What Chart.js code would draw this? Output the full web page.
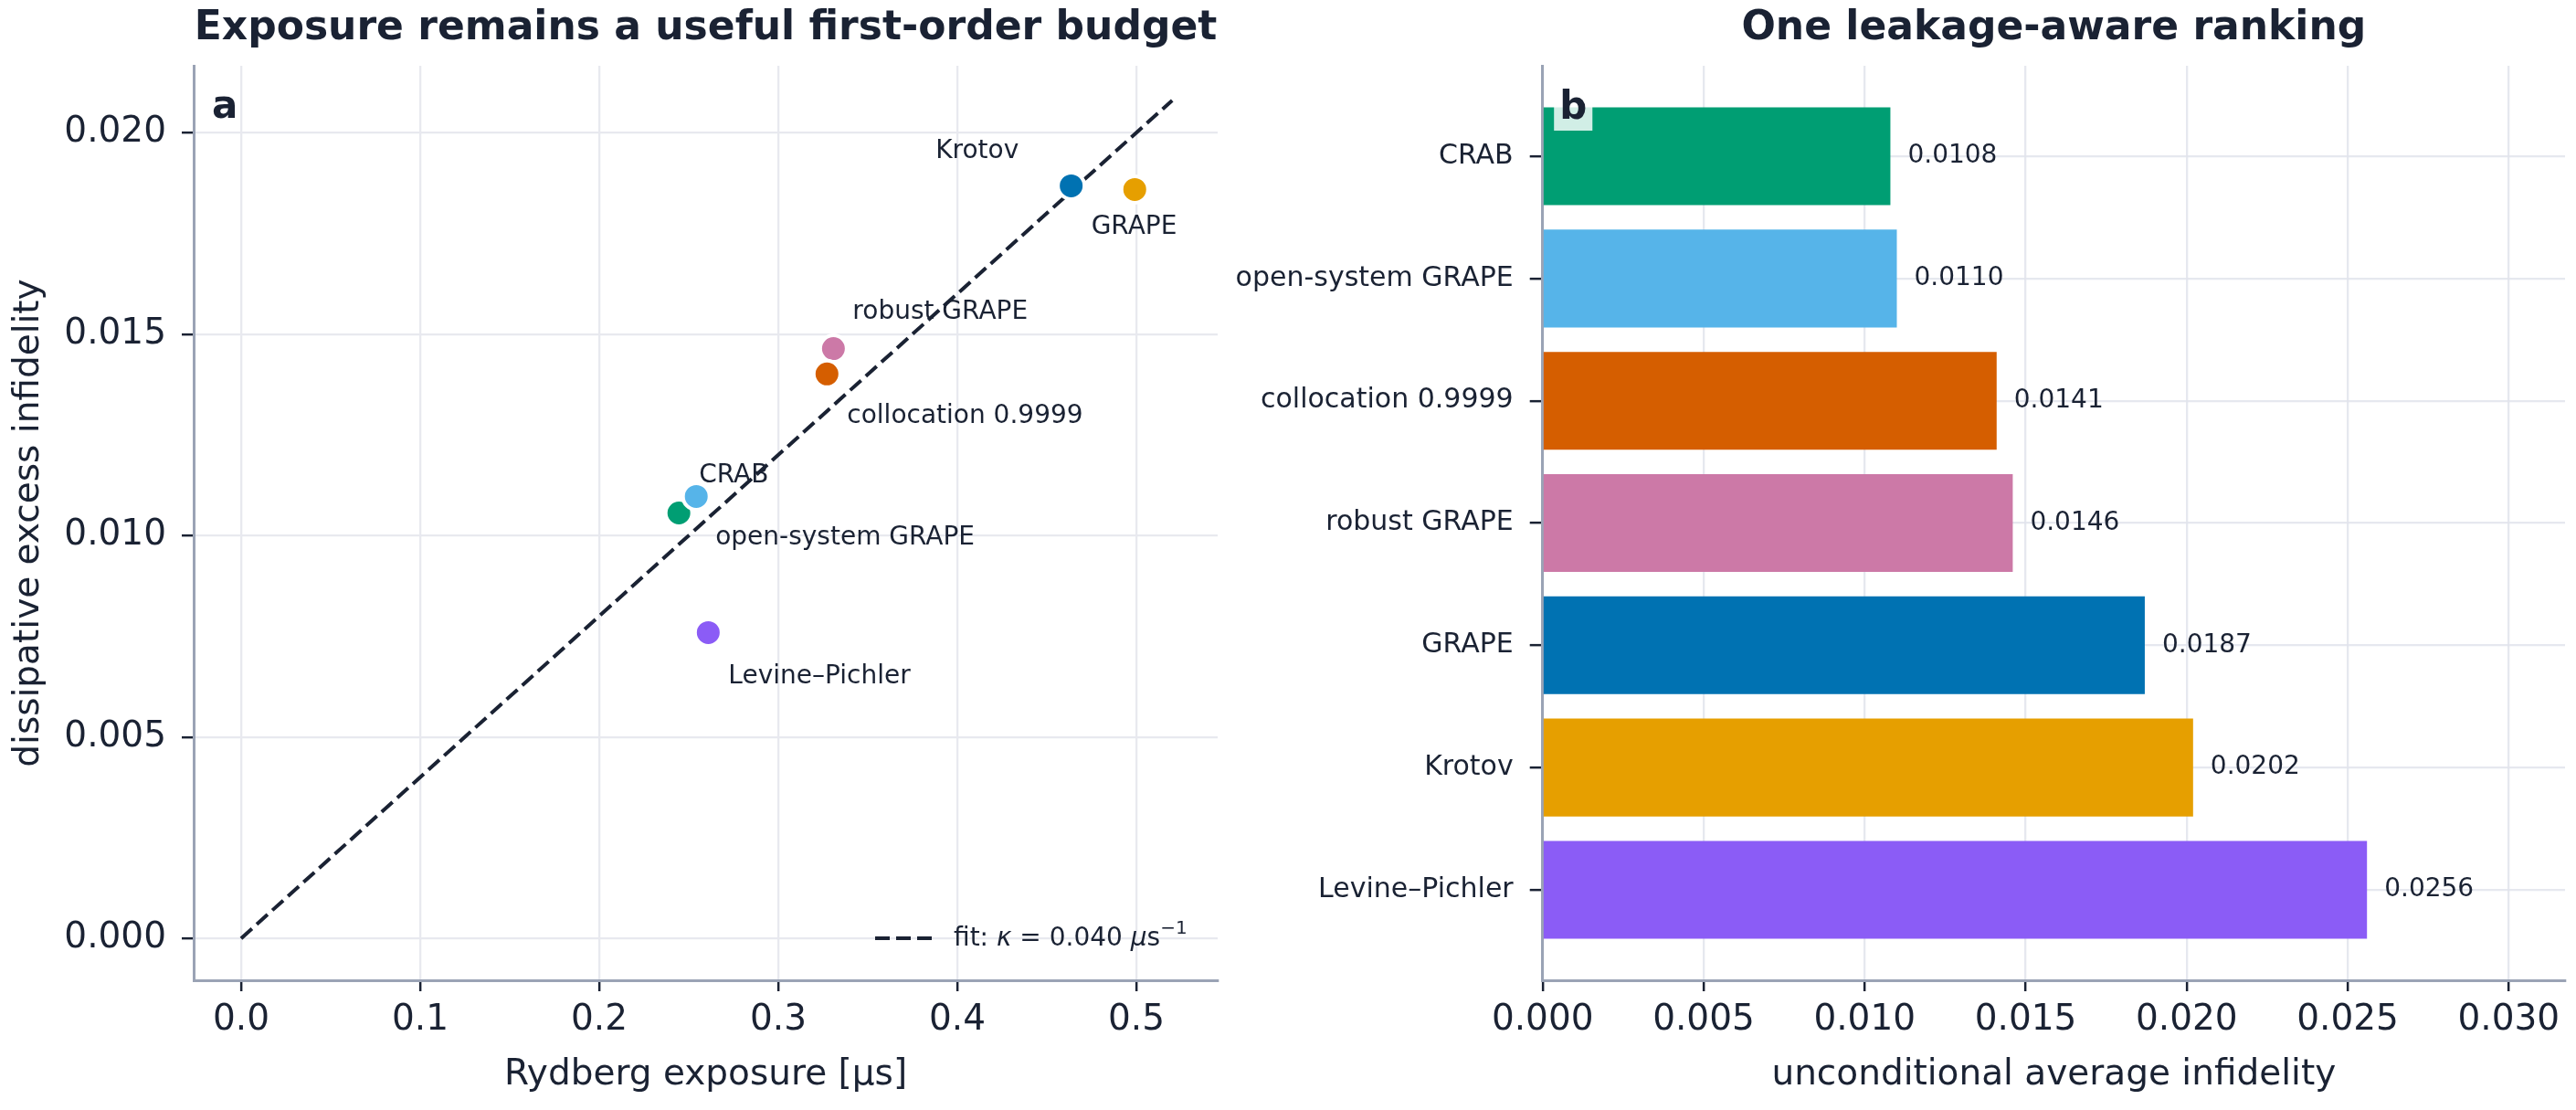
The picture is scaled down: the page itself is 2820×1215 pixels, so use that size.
<!DOCTYPE html>
<html>
<head>
<meta charset="utf-8">
<script src="https://cdn.jsdelivr.net/npm/chart.js@4.4.1/dist/chart.umd.min.js"></script>
<style>
  html, body { margin: 0; padding: 0; background: #fff; }
  #wrap { position: relative; width: 2820px; height: 1215px; }
  canvas { position: absolute; top: 0; }
  #left { left: 0; }
  #right { left: 1340px; }
</style>
</head>
<body>
<div id="wrap">
  <canvas id="left" width="1410" height="1215"></canvas>
  <canvas id="right" width="1480" height="1215"></canvas>
</div>
<script>
// panel a: exposure vs dissipative excess infidelity
const scatterMethods = ["GRAPE", "Krotov", "robust GRAPE", "collocation 0.9999", "CRAB", "open-system GRAPE", "Levine–Pichler"];
const exposure = [0.4636, 0.4991, 0.3308, 0.3272, 0.2445, 0.2542, 0.2609];
const excessInfidelity = [0.01868, 0.01859, 0.01464, 0.01401, 0.01056, 0.01097, 0.00759];
const fitX = [0, 0.52];
const fitY = [0, 0.0208];
const exposureTicks = [0, 0.1, 0.2, 0.3, 0.4, 0.5];
const excessTicks = [0, 0.005, 0.01, 0.015, 0.02];

// panel b: ranking
const rankMethods = ["CRAB", "open-system GRAPE", "collocation 0.9999", "robust GRAPE", "GRAPE", "Krotov", "Levine–Pichler"];
const infidelity = [0.0108, 0.0110, 0.0141, 0.0146, 0.0187, 0.0202, 0.0256];
const infidelityTicks = [0, 0.005, 0.01, 0.015, 0.02, 0.025, 0.03];

const colors = {
  "CRAB": "#009E73",
  "open-system GRAPE": "#56B4E9",
  "collocation 0.9999": "#D55E00",
  "robust GRAPE": "#CC79A7",
  "GRAPE": "#0072B2",
  "Krotov": "#E69F00",
  "Levine–Pichler": "#8B5CF6",
};

// where each point label sits relative to its marker
const labelPlace = {
  "GRAPE": { dx: 22, dy: 53, align: "left" },
  "Krotov": { dx: -127, dy: -34, align: "right" },
  "robust GRAPE": { dx: 21, dy: -33, align: "left" },
  "collocation 0.9999": { dx: 22, dy: 54, align: "left" },
  "CRAB": { dx: 22, dy: -33, align: "left" },
  "open-system GRAPE": { dx: 21, dy: 53, align: "left" },
  "Levine–Pichler": { dx: 22, dy: 56, align: "left" },
};

const ink = "#1a2233";
const spine = "#9aa3b5";
const FONT = "'DejaVu Sans', sans-serif";

const gridLeft = { color: "#e8e9ef", lineWidth: 2.3, tickColor: ink, tickLength: 12, tickWidth: 2.5 };
const gridRight = { color: "rgba(226,228,236,0.85)", lineWidth: 2.3, tickColor: ink, tickLength: 14, tickWidth: 2.5 };
const borderStyle = { color: spine, width: 3 };

function panelLetter(ctx, letter, x, baseline, boxed) {
  ctx.save();
  ctx.font = "bold 42px " + FONT;
  const w = ctx.measureText(letter).width;
  if (boxed) {
    ctx.fillStyle = "rgba(255,255,255,0.82)";
    ctx.fillRect(x - 6, baseline - 45, w + 12, 58);
  }
  ctx.fillStyle = ink;
  ctx.textBaseline = "alphabetic";
  ctx.textAlign = "left";
  ctx.fillText(letter, x, baseline);
  ctx.restore();
}

const scatterDecor = {
  id: "scatterDecor",
  afterDatasetsDraw(chart) {
    const ctx = chart.ctx;
    const pts = chart.getDatasetMeta(0).data;
    ctx.save();
    ctx.font = "28px " + FONT;
    ctx.fillStyle = ink;
    ctx.textBaseline = "alphabetic";
    pts.forEach((p, i) => {
      const m = scatterMethods[i];
      const pl = labelPlace[m];
      ctx.textAlign = pl.align;
      ctx.fillText(m, p.x + pl.dx, p.y + pl.dy);
    });
    ctx.restore();
  },
  afterDraw(chart) {
    const ctx = chart.ctx;
    const a = chart.chartArea;
    panelLetter(ctx, "a", a.left + 20, a.top + 57, false);

    // legend for the fit line
    const ly = a.bottom - 46;
    ctx.save();
    ctx.strokeStyle = ink;
    ctx.lineWidth = 4;
    ctx.setLineDash([16, 7]);
    ctx.beginPath();
    ctx.moveTo(a.right - 375, ly);
    ctx.lineTo(a.right - 313, ly);
    ctx.stroke();
    ctx.setLineDash([]);
    ctx.fillStyle = ink;
    ctx.textBaseline = "alphabetic";
    ctx.textAlign = "left";
    let x = a.right - 289;
    const base = ly + 8;
    const parts = [
      ["fit: ", "28px", 0],
      ["κ", "italic 28px", 0],
      [" = 0.040 ", "28px", 0],
      ["μ", "italic 28px", 0],
      ["s", "28px", 0],
      ["−1", "20px", -13],
    ];
    parts.forEach(([t, f, rise]) => {
      ctx.font = f + " " + FONT;
      ctx.fillText(t, x, base + rise);
      x += ctx.measureText(t).width;
    });
    ctx.restore();
  },
};

const barDecor = {
  id: "barDecor",
  afterDraw(chart) {
    const ctx = chart.ctx;
    const bars = chart.getDatasetMeta(0).data;
    ctx.save();
    ctx.font = "28px " + FONT;
    ctx.fillStyle = ink;
    ctx.textAlign = "left";
    ctx.textBaseline = "middle";
    bars.forEach((b, i) => {
      ctx.fillText(infidelity[i].toFixed(4), b.x + 19, b.y);
    });
    ctx.restore();
    const a = chart.chartArea;
    panelLetter(ctx, "b", a.left + 18.5, a.top + 58, true);
  },
};

new Chart(document.getElementById("left"), {
  type: "scatter",
  data: {
    datasets: [
      {
        label: "methods",
        data: exposure.map((x, i) => ({ x, y: excessInfidelity[i] })),
        pointRadius: 14.5,
        pointBorderWidth: 4,
        pointBorderColor: "#ffffff",
        pointBackgroundColor: scatterMethods.map((m) => colors[m]),
      },
      {
        type: "line",
        label: "fit",
        data: fitX.map((x, i) => ({ x, y: fitY[i] })),
        borderColor: ink,
        borderWidth: 4,
        borderDash: [16, 7],
        pointRadius: 0,
        fill: false,
      },
    ],
  },
  options: {
    responsive: false,
    animation: false,
    layout: { padding: { left: 0, right: 77, top: 0, bottom: 0 } },
    plugins: {
      legend: { display: false },
      tooltip: { enabled: false },
      title: {
        display: true,
        fullSize: false,
        text: "Exposure remains a useful first-order budget",
        color: ink,
        font: { family: FONT, size: 44, weight: "bold" },
        padding: { top: 5.6, bottom: 13.6 },
      },
    },
    scales: {
      x: {
        type: "linear",
        min: -0.0265,
        max: 0.5454,
        afterBuildTicks: (s) => { s.ticks = exposureTicks.map((v) => ({ value: v })); },
        afterFit: (s) => { s.height = 142; },
        ticks: { callback: (v) => v.toFixed(1), color: ink, font: { family: FONT, size: 39 }, padding: 8.6 },
        grid: gridLeft,
        border: borderStyle,
        title: {
          display: true,
          text: "Rydberg exposure [μs]",
          color: ink,
          font: { family: FONT, size: 39 },
          padding: { top: 0, bottom: 14.6 },
        },
      },
      y: {
        type: "linear",
        min: -0.00104,
        max: 0.02166,
        afterBuildTicks: (s) => { s.ticks = excessTicks.map((v) => ({ value: v })); },
        afterFit: (s) => { s.width = 212; },
        ticks: { callback: (v) => v.toFixed(3), color: ink, font: { family: FONT, size: 39 }, padding: 17 },
        grid: Object.assign({}, gridLeft, { tickLength: 13 }),
        border: borderStyle,
        title: {
          display: true,
          text: "dissipative excess infidelity",
          color: ink,
          font: { family: FONT, size: 39 },
          padding: { top: 8.6, bottom: 0 },
        },
      },
    },
  },
  plugins: [scatterDecor],
});

new Chart(document.getElementById("right"), {
  type: "bar",
  data: {
    datasets: [
      {
        label: "unconditional average infidelity",
        data: infidelity.map((v, i) => ({ x: v, y: i })),
        backgroundColor: rankMethods.map((m) => colors[m]),
        borderWidth: 0,
        barPercentage: 0.8,
        categoryPercentage: 1.0,
      },
    ],
  },
  options: {
    indexAxis: "y",
    responsive: false,
    animation: false,
    layout: { padding: { left: 0, right: 12, top: 0, bottom: 0 } },
    plugins: {
      legend: { display: false },
      tooltip: { enabled: false },
      title: {
        display: true,
        fullSize: false,
        text: "One leakage-aware ranking",
        color: ink,
        font: { family: FONT, size: 44, weight: "bold" },
        padding: { top: 5.6, bottom: 13.6 },
      },
    },
    scales: {
      x: {
        type: "linear",
        min: 0,
        max: 0.03175,
        z: 1,
        afterBuildTicks: (s) => { s.ticks = infidelityTicks.map((v) => ({ value: v })); },
        afterFit: (s) => { s.height = 142; },
        ticks: { callback: (v) => v.toFixed(3), color: ink, font: { family: FONT, size: 39 }, padding: 8.6 },
        grid: Object.assign({}, gridRight, { tickLength: 12 }),
        border: borderStyle,
        title: {
          display: true,
          text: "unconditional average infidelity",
          color: ink,
          font: { family: FONT, size: 39 },
          padding: { top: 0, bottom: 14.6 },
        },
      },
      y: {
        type: "linear",
        reverse: true,
        offset: false,
        min: -0.74,
        max: 6.74,
        z: 1,
        afterBuildTicks: (s) => { s.ticks = rankMethods.map((_, i) => ({ value: i })); },
        afterFit: (s) => { s.width = 348.7; },
        ticks: { callback: (v) => rankMethods[v], color: ink, font: { family: FONT, size: 30 }, padding: 18 },
        grid: Object.assign({}, gridRight, { offset: false }),
        border: borderStyle,
      },
    },
  },
  plugins: [barDecor],
});
</script>
</body>
</html>
